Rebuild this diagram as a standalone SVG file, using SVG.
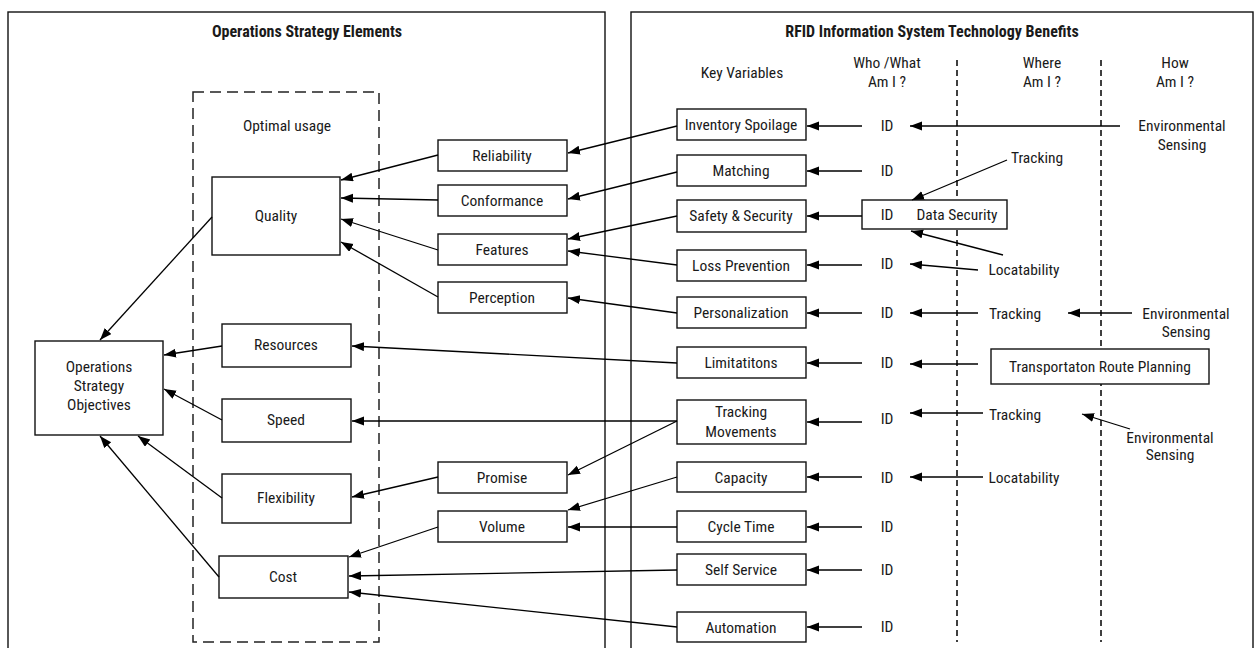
<svg xmlns="http://www.w3.org/2000/svg" width="1258" height="648" viewBox="0 0 1258 648">
<defs>
<marker id="ah" markerUnits="userSpaceOnUse" markerWidth="14" markerHeight="10" refX="12" refY="4.5" orient="auto">
<path d="M0,0 L12,4.5 L0,9 z" fill="#000"/>
</marker>
<style>
text{font-family:"Roboto Condensed","Liberation Sans Narrow","Arial Narrow",sans-serif;font-stretch:condensed;font-size:15.5px;fill:#1a1a1a;text-anchor:middle}
.t{font-weight:bold;font-size:16px}
.b{fill:#fff;stroke:#111;stroke-width:1.4}
.p{fill:none;stroke:#111;stroke-width:1.4}
.c line{stroke:#000;stroke-width:1.3;marker-end:url(#ah)}
.dash{fill:none;stroke:#222;stroke-width:1.5;stroke-dasharray:11,6}
.vd{stroke:#000;stroke-width:1.5;stroke-dasharray:6,4}
</style>
</defs>
<rect width="1258" height="648" fill="#fff"/>
<g id="panel-left"><rect class="p" x="8" y="12" width="597" height="660"/><text class="t" x="307" y="37">Operations Strategy Elements</text></g>
<g id="panel-right"><rect class="p" x="631" y="12" width="622" height="660"/><text class="t" x="932" y="37">RFID Information System Technology Benefits</text></g>
<g id="optimal-usage"><rect class="dash" x="193" y="92" width="186" height="550"/><text x="287" y="131">Optimal usage</text></g>
<g id="headers">
<text x="742" y="78">Key Variables</text>
<text x="887" y="68">Who /What</text><text x="887" y="87">Am I ?</text>
<text x="1042" y="68">Where</text><text x="1042" y="87">Am I ?</text>
<text x="1175" y="68">How</text><text x="1175" y="87">Am I ?</text>
<line class="vd" x1="957" y1="60" x2="957" y2="642"/>
<line class="vd" x1="1101" y1="60" x2="1101" y2="642"/>
</g>
<g id="objectives"><rect class="b" x="35" y="341" width="128" height="94"/><text x="99" y="372">Operations</text><text x="99" y="391">Strategy</text><text x="99" y="410">Objectives</text></g>
<g id="quality"><rect class="b" x="212" y="177" width="128" height="78"/><text x="276" y="221">Quality</text></g>
<g id="resources"><rect class="b" x="222" y="324" width="129" height="43"/><text x="286" y="350">Resources</text></g>
<g id="speed"><rect class="b" x="222" y="399" width="129" height="43"/><text x="286" y="425">Speed</text></g>
<g id="flexibility"><rect class="b" x="222" y="474" width="129" height="49"/><text x="286" y="503">Flexibility</text></g>
<g id="cost"><rect class="b" x="219" y="556" width="129" height="42"/><text x="283" y="582">Cost</text></g>
<g id="reliability"><rect class="b" x="438" y="140" width="129" height="31"/><text x="502" y="161">Reliability</text></g>
<g id="conformance"><rect class="b" x="438" y="185" width="129" height="31"/><text x="502" y="206">Conformance</text></g>
<g id="features"><rect class="b" x="438" y="234" width="129" height="31"/><text x="502" y="255">Features</text></g>
<g id="perception"><rect class="b" x="438" y="282" width="129" height="31"/><text x="502" y="303">Perception</text></g>
<g id="promise"><rect class="b" x="438" y="462" width="129" height="31"/><text x="502" y="483">Promise</text></g>
<g id="volume"><rect class="b" x="438" y="511" width="129" height="31"/><text x="502" y="532">Volume</text></g>
<g id="inventory-spoilage"><rect class="b" x="677" y="109" width="129" height="31"/><text x="741" y="130">Inventory Spoilage</text></g>
<g id="matching"><rect class="b" x="677" y="155" width="129" height="31"/><text x="741" y="176">Matching</text></g>
<g id="safety-security"><rect class="b" x="677" y="200" width="129" height="32"/><text x="741" y="221">Safety &amp; Security</text></g>
<g id="loss-prevention"><rect class="b" x="677" y="250" width="129" height="31"/><text x="741" y="271">Loss Prevention</text></g>
<g id="personalization"><rect class="b" x="677" y="297" width="129" height="31"/><text x="741" y="318">Personalization</text></g>
<g id="limitations"><rect class="b" x="677" y="347" width="129" height="31"/><text x="741" y="368">Limitatitons</text></g>
<g id="tracking-movements"><rect class="b" x="677" y="400" width="129" height="44"/><text x="741" y="417">Tracking</text><text x="741" y="437">Movements</text></g>
<g id="capacity"><rect class="b" x="677" y="462" width="129" height="30"/><text x="741" y="483">Capacity</text></g>
<g id="cycle-time"><rect class="b" x="677" y="511" width="129" height="31"/><text x="741" y="532">Cycle Time</text></g>
<g id="self-service"><rect class="b" x="677" y="554" width="129" height="31"/><text x="741" y="575">Self Service</text></g>
<g id="automation"><rect class="b" x="677" y="612" width="129" height="30"/><text x="741" y="633">Automation</text></g>
<g id="data-security"><rect class="b" x="862" y="200" width="145" height="29"/><text x="887" y="220">ID</text><text x="957" y="220">Data Security</text></g>
<g id="transport-route"><rect class="b" x="991" y="349" width="218" height="35"/><text x="1100" y="372">Transportaton Route Planning</text></g>
<g id="ids">
<text x="887" y="131">ID</text><text x="887" y="176">ID</text><text x="887" y="269">ID</text><text x="887" y="318">ID</text><text x="887" y="368">ID</text><text x="887" y="424">ID</text><text x="887" y="483">ID</text><text x="887" y="532">ID</text><text x="887" y="575">ID</text><text x="887" y="632">ID</text>
</g>
<g id="sources">
<text x="1182" y="131">Environmental</text><text x="1182" y="150">Sensing</text>
<text x="1037" y="163">Tracking</text>
<text x="1024" y="275">Locatability</text>
<text x="1015" y="319">Tracking</text>
<text x="1186" y="319">Environmental</text><text x="1186" y="337">Sensing</text>
<text x="1015" y="420">Tracking</text>
<text x="1170" y="443">Environmental</text><text x="1170" y="460">Sensing</text>
<text x="1024" y="483">Locatability</text>
</g>
<g id="connectors" class="c">
<line x1="212" y1="217" x2="100" y2="340"/>
<line x1="222" y1="346" x2="164" y2="355"/>
<line x1="222" y1="420" x2="164" y2="389"/>
<line x1="222" y1="498" x2="138" y2="436"/>
<line x1="219" y1="577" x2="100" y2="436"/>
<line x1="438" y1="155" x2="341" y2="180"/>
<line x1="438" y1="200" x2="341" y2="198"/>
<line x1="438" y1="250" x2="341" y2="219"/>
<line x1="438" y1="297" x2="341" y2="242"/>
<line x1="438" y1="477" x2="352" y2="497"/>
<line x1="438" y1="527" x2="349" y2="557"/>
<line x1="677" y1="126" x2="568" y2="153"/>
<line x1="677" y1="172" x2="568" y2="199"/>
<line x1="677" y1="216" x2="568" y2="239"/>
<line x1="677" y1="265" x2="568" y2="251"/>
<line x1="677" y1="313" x2="568" y2="298"/>
<line x1="677" y1="363" x2="352" y2="346"/>
<line x1="677" y1="421" x2="352" y2="421"/>
<line x1="677" y1="421" x2="568" y2="475"/>
<line x1="677" y1="477" x2="568" y2="510"/>
<line x1="677" y1="527" x2="568" y2="527"/>
<line x1="677" y1="570" x2="349" y2="576"/>
<line x1="677" y1="627" x2="349" y2="592"/>
<line x1="862" y1="126" x2="807" y2="126"/>
<line x1="862" y1="171" x2="807" y2="171"/>
<line x1="862" y1="216" x2="807" y2="216"/>
<line x1="862" y1="265" x2="807" y2="265"/>
<line x1="862" y1="313" x2="807" y2="313"/>
<line x1="862" y1="363" x2="807" y2="363"/>
<line x1="862" y1="422" x2="807" y2="422"/>
<line x1="862" y1="477" x2="807" y2="477"/>
<line x1="862" y1="527" x2="807" y2="527"/>
<line x1="862" y1="570" x2="807" y2="570"/>
<line x1="862" y1="627" x2="807" y2="627"/>
<line x1="1120" y1="126" x2="910" y2="126"/>
<line x1="1007" y1="160" x2="912" y2="200"/>
<line x1="1003" y1="255" x2="911" y2="231"/>
<line x1="978" y1="270" x2="910" y2="264"/>
<line x1="978" y1="313" x2="910" y2="313"/>
<line x1="1132" y1="313" x2="1068" y2="313"/>
<line x1="978" y1="364" x2="910" y2="364"/>
<line x1="983" y1="413" x2="910" y2="413"/>
<line x1="1130" y1="429" x2="1082" y2="414"/>
<line x1="983" y1="477" x2="910" y2="477"/>
</g>
</svg>
